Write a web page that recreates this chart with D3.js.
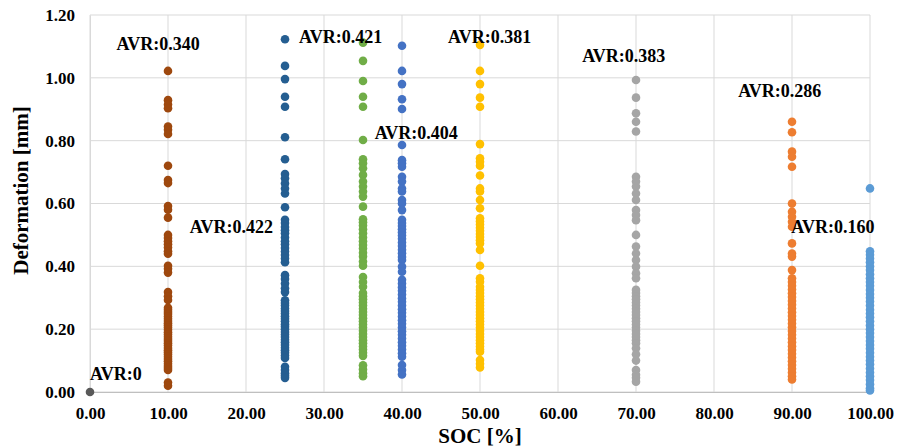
<!DOCTYPE html>
<html>
<head>
<meta charset="utf-8">
<script src="https://cdn.jsdelivr.net/npm/d3@7"></script>
<style>
  html, body { margin: 0; padding: 0; background: #ffffff; }
  svg { display: block; }
  text { font-family: "Liberation Serif", "Times New Roman", serif; font-weight: bold; fill: #000; }
</style>
</head>
<body>
<svg id="chart" width="897" height="448"></svg>
<script>
// ---- Data ----
const socLevels = [0, 10, 25, 35, 40, 50, 70, 90, 100];
const seriesColors = ["#595959", "#9E480E", "#255E91", "#70AD47", "#4472C4", "#FFC000", "#A5A5A5", "#ED7D31", "#5B9BD5"];

const def0 = [0.0];
const def10 = [1.022, 0.929, 0.915, 0.903, 0.845, 0.835, 0.821, 0.720, 0.675, 0.665, 0.592, 0.580, 0.555,
  0.500, 0.490, 0.480, 0.470, 0.460, 0.448, 0.440, 0.402, 0.392, 0.380, 0.318, 0.305, 0.293,
  0.268, 0.262, 0.255, 0.248, 0.240, 0.233, 0.226, 0.219, 0.212, 0.205, 0.198, 0.190, 0.183, 0.176,
  0.169, 0.162, 0.155, 0.148, 0.140, 0.133, 0.126, 0.119, 0.112, 0.105, 0.098, 0.090, 0.083, 0.076,
  0.070, 0.030, 0.020];
const def25 = [1.123, 1.038, 0.996, 0.940, 0.908, 0.811, 0.741, 0.694, 0.680, 0.664, 0.648, 0.632, 0.588,
  0.548, 0.538, 0.525, 0.515, 0.505, 0.492, 0.480, 0.470, 0.458, 0.447, 0.436, 0.425, 0.413,
  0.372, 0.360, 0.345, 0.330, 0.318, 0.292, 0.283, 0.275, 0.266, 0.258, 0.250, 0.241, 0.233, 0.225,
  0.216, 0.208, 0.200, 0.191, 0.183, 0.175, 0.166, 0.158, 0.150, 0.141, 0.133, 0.125, 0.116, 0.108,
  0.080, 0.070, 0.060, 0.052, 0.045];
const def35 = [1.112, 1.054, 0.990, 0.940, 0.908, 0.802, 0.741, 0.728, 0.712, 0.691, 0.670, 0.654, 0.638,
  0.622, 0.590, 0.550, 0.540, 0.530, 0.518, 0.505, 0.492, 0.480, 0.468, 0.457, 0.443, 0.431, 0.415,
  0.402, 0.366, 0.350, 0.335, 0.315, 0.305, 0.295, 0.285, 0.275, 0.265, 0.255, 0.245, 0.235, 0.225,
  0.215, 0.205, 0.195, 0.185, 0.175, 0.165, 0.155, 0.145, 0.135, 0.125, 0.115, 0.085, 0.072, 0.060, 0.050];
const def40 = [1.102, 1.022, 0.980, 0.932, 0.901, 0.786, 0.738, 0.728, 0.717, 0.685, 0.670, 0.648, 0.638,
  0.611, 0.600, 0.579, 0.548, 0.538, 0.528, 0.518, 0.508, 0.498, 0.488, 0.476, 0.465, 0.453, 0.442,
  0.430, 0.420, 0.399, 0.383, 0.357, 0.345, 0.333, 0.322, 0.310, 0.298, 0.287, 0.275, 0.263, 0.252,
  0.240, 0.228, 0.217, 0.205, 0.193, 0.182, 0.170, 0.158, 0.147, 0.135, 0.123, 0.112, 0.086, 0.070, 0.056];
const def50 = [1.105, 1.022, 0.980, 0.937, 0.908, 0.789, 0.744, 0.733, 0.720, 0.689, 0.648, 0.638, 0.611,
  0.585, 0.553, 0.543, 0.533, 0.523, 0.513, 0.503, 0.493, 0.483, 0.473, 0.452, 0.402, 0.362, 0.351,
  0.335, 0.325, 0.315, 0.305, 0.295, 0.285, 0.275, 0.265, 0.255, 0.245, 0.235, 0.225, 0.215, 0.205,
  0.195, 0.185, 0.175, 0.165, 0.155, 0.145, 0.135, 0.128, 0.102, 0.090, 0.078];
const def70 = [0.993, 0.937, 0.887, 0.860, 0.829, 0.685, 0.670, 0.654, 0.632, 0.611, 0.579, 0.563, 0.547,
  0.500, 0.463, 0.441, 0.420, 0.399, 0.378, 0.362, 0.325, 0.315, 0.305, 0.295, 0.285, 0.275, 0.265,
  0.255, 0.245, 0.235, 0.225, 0.215, 0.205, 0.195, 0.185, 0.175, 0.165, 0.155, 0.139, 0.120, 0.100,
  0.070, 0.055, 0.045, 0.033];
const def90 = [0.860, 0.827, 0.765, 0.749, 0.717, 0.600, 0.574, 0.558, 0.542, 0.526, 0.473, 0.441, 0.431,
  0.388, 0.362, 0.350, 0.338, 0.326, 0.314, 0.302, 0.290, 0.278, 0.266, 0.254, 0.242, 0.230, 0.218,
  0.206, 0.194, 0.182, 0.170, 0.158, 0.146, 0.134, 0.122, 0.110, 0.098, 0.086, 0.074, 0.062, 0.050, 0.040];
const def100 = [0.648, 0.448, 0.437, 0.425, 0.413, 0.400, 0.388, 0.375, 0.362, 0.350, 0.338, 0.325, 0.312,
  0.300, 0.288, 0.275, 0.262, 0.250, 0.238, 0.225, 0.212, 0.200, 0.188, 0.175, 0.162, 0.150, 0.138,
  0.125, 0.112, 0.100, 0.088, 0.075, 0.062, 0.050, 0.038, 0.025, 0.012, 0.005];

const seriesValues = [def0, def10, def25, def35, def40, def50, def70, def90, def100];

// Average labels and their anchor positions (in data units: SOC, deformation)
const avrLabels = ["AVR:0", "AVR:0.340", "AVR:0.422", "AVR:0.421", "AVR:0.404", "AVR:0.381", "AVR:0.383", "AVR:0.286", "AVR:0.160"];
const avrLabelSoc = [0, 3.4, 12.8, 26.8, 36.5, 45.9, 63.1, 83.1, 89.9];
const avrLabelDef = [0.038, 1.088, 0.506, 1.111, 0.805, 1.111, 1.050, 0.939, 0.506];

const xTicks = [0, 10, 20, 30, 40, 50, 60, 70, 80, 90, 100];
const yTicks = [0, 0.2, 0.4, 0.6, 0.8, 1.0, 1.2];
const xTitle = "SOC [%]";
const yTitle = "Deformation [mm]";

// ---- Chart ----
const W = 897, H = 448;
const margin = { top: 15, right: 27, bottom: 56, left: 90 };
const svg = d3.select("#chart");

const x = d3.scaleLinear().domain([0, 100]).range([margin.left, W - margin.right]);
const y = d3.scaleLinear().domain([0, 1.2]).range([H - margin.bottom, margin.top]);

// gridlines
svg.append("g").selectAll("line.h").data(yTicks).join("line")
  .attr("x1", x(0)).attr("x2", x(100))
  .attr("y1", d => y(d)).attr("y2", d => y(d))
  .attr("stroke", "#d9d9d9").attr("stroke-width", 1);
svg.append("g").selectAll("line.v").data(xTicks).join("line")
  .attr("x1", d => x(d)).attr("x2", d => x(d))
  .attr("y1", y(0)).attr("y2", y(1.2))
  .attr("stroke", "#d9d9d9").attr("stroke-width", 1);

// x axis
const xAxis = svg.append("g")
  .attr("transform", `translate(0,${y(0)})`)
  .call(d3.axisBottom(x).tickValues(xTicks).tickFormat(d3.format(".2f")).tickSize(0).tickPadding(15));
xAxis.select(".domain").attr("stroke", "#bfbfbf");
xAxis.selectAll("text").attr("font-size", 17).attr("font-family", "Liberation Serif").attr("font-weight", "bold").attr("fill", "#000");

// y axis
const yAxis = svg.append("g")
  .attr("transform", `translate(${x(0)},0)`)
  .call(d3.axisLeft(y).tickValues(yTicks).tickFormat(d3.format(".2f")).tickSize(0).tickPadding(15));
yAxis.select(".domain").attr("stroke", "#d9d9d9");
yAxis.selectAll("text").attr("font-size", 17).attr("font-family", "Liberation Serif").attr("font-weight", "bold").attr("fill", "#000");

// points
const pts = [];
seriesValues.forEach((vals, i) => vals.forEach(v => pts.push({ soc: socLevels[i], v, c: seriesColors[i] })));
svg.append("g").selectAll("circle").data(pts).join("circle")
  .attr("cx", d => x(d.soc)).attr("cy", d => y(d.v)).attr("r", 4.3)
  .attr("fill", d => d.c);

// AVR labels
svg.append("g").selectAll("text").data(avrLabels).join("text")
  .attr("x", (d, i) => x(avrLabelSoc[i])).attr("y", (d, i) => y(avrLabelDef[i]))
  .attr("font-size", 18)
  .text(d => d);

// axis titles
svg.append("text")
  .attr("x", (x(0) + x(100)) / 2).attr("y", 443)
  .attr("text-anchor", "middle").attr("font-size", 21)
  .text(xTitle);
svg.append("text")
  .attr("transform", `translate(28,${(y(0) + y(1.2)) / 2 - 13}) rotate(-90)`)
  .attr("text-anchor", "middle").attr("font-size", 21)
  .text(yTitle);
</script>
</body>
</html>
